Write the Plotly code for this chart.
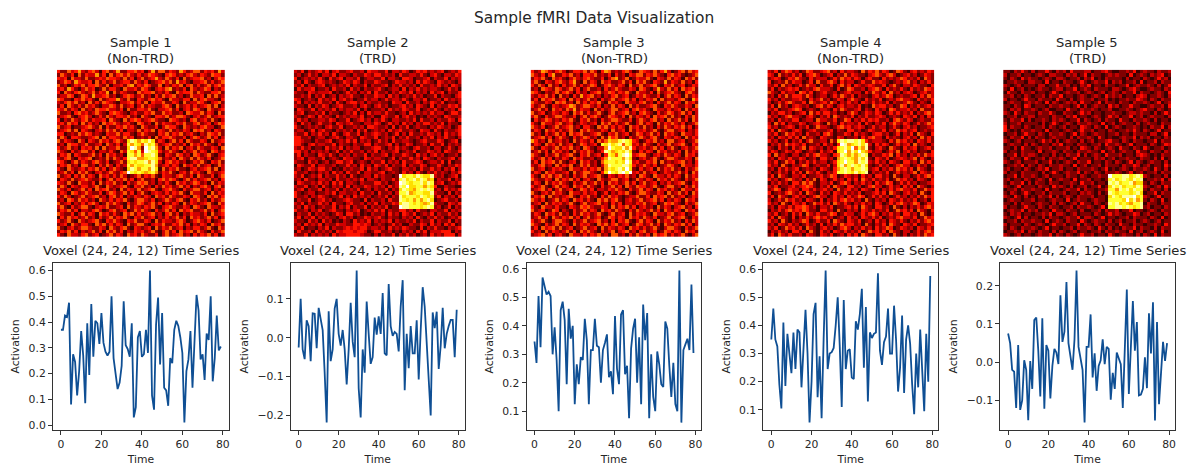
import plotly.graph_objects as go

W, H = 1194, 466
TIME = list(range(80))

SERIES_1 = [.37,.37,.425,.42,.475,.08,.275,.245,.115,.21,.365,.27,.085,.395,.195,.47,.265,.405,.395,.315,
            .435,.32,.285,.27,.285,.5,.26,.2,.14,.165,.23,.48,.31,.295,.265,.395,.03,.07,.34,.365,
            .265,.275,.37,.28,.6,.115,.06,.39,.495,.235,.435,.145,.135,.075,.26,.24,.37,.405,.385,.34,
            .28,.01,.21,.255,.365,.145,.34,.505,.445,.255,.275,.175,.355,.33,.5,.17,.26,.425,.29,.305]
SERIES_2 = [-.025,.1,-.03,-.055,.045,.03,-.06,.063,.062,-.027,.077,.05,.02,-.09,-.218,.068,-.06,-.03,.075,.1,
            .01,-.02,.02,-.03,-.12,-.03,.09,-.01,-.05,.173,-.13,-.205,-.03,-.09,.093,.01,-.067,-.05,.052,.008,
            .055,.01,.115,-.04,-.045,.138,.03,.005,.015,.01,-.035,.08,.148,-.135,.01,-.078,.03,-.04,-.04,.045,
            -.107,.02,.13,.08,-.01,-.09,-.2,.065,.025,.067,-.08,-.02,.077,-.027,.01,.03,.046,.046,-.05,.072]
SERIES_3 = [.345,.27,.505,.325,.57,.54,.51,.52,.505,.3,.395,.28,.1,.455,.485,.42,.195,.46,.355,.4,
            .125,.265,.195,.29,.28,.425,.35,.125,.315,.315,.425,.33,.325,.2,.315,.34,.37,.22,.24,.16,
            .435,.25,.195,.44,.455,.23,.26,.075,.32,.39,.425,.2,.36,.125,.475,.35,.445,.075,.3,.15,
            .1,.31,.265,.195,.185,.415,.39,.26,.15,.27,.125,.1,.595,.06,.315,.335,.355,.315,.545,.305]
SERIES_4 = [.35,.46,.35,.325,.19,.105,.41,.185,.37,.31,.23,.375,.245,.385,.375,.18,.3,.455,.3,.055,
            .2,.44,.48,.145,.29,.07,.35,.595,.245,.3,.305,.32,.4,.5,.33,.11,.49,.245,.31,.315,
            .215,.21,.415,.385,.44,.53,.25,.465,.13,.375,.355,.37,.375,.585,.31,.26,.34,.36,.46,.3,
            .3,.47,.35,.165,.25,.435,.16,.35,.4,.335,.19,.085,.3,.18,.385,.215,.095,.37,.2,.575]
SERIES_5 = [.075,.05,-.02,-.025,-.12,.045,-.125,-.1,.005,-.02,-.152,.003,-.07,.11,.117,.03,-.09,.115,-.122,.045,
            .03,-.095,-.01,.035,.025,-.005,.175,.053,.08,.21,.05,.01,-.02,.06,.24,.04,.01,-.02,-.158,.04,
            .04,.125,-.04,.023,-.075,-.01,.005,.06,-.005,.04,.035,-.098,-.028,-.07,.025,.01,-.005,-.12,.05,.19,
            -.083,.02,.16,.03,.105,-.087,-.085,-.07,.013,-.068,.128,.023,.157,-.153,.105,-.11,-.01,.053,.003,.05]

# Per-cell brightness levels.
HEAT_1 = """
31142352 13420341 25113342 30251441 32153124 41323152
14213041 32251304 13424213 12432103 43121342 13214331
32304221 41123243 32141302 41235214 21304123 34120243
12431532 23041312 41233142 13012342 41523102 23413124
41201324 13342140 22314513 24311402 13240341 31241342
23153102 42301413 31042231 43102324 51213042 12430213
30421342 12413250 41321104 23341213 10423341 42113341
12243014 31522341 20134312 41203142 34120142 23041412
43110324 23104123 35214103 21342310 42213304 13422103
21342412 04131432 10223413 14032241 13204122 43102341
13042131 42310224 31412302 41321134 20412313 12341402
32413204 12143342 21304113 32410223 41302314 31042123
41120342 31242103 43210231 13241142 31120432 24132041
12341023 42013142 13324120 42103324 12443102 31241233
30214213 41322304 21041343 12342110 43212034 12314102
23142304 13120423 42123104 31204132 21324113 41230243
41230112 34214031 13242310 42113024 33104212 13422014
12341403 21023142 41302214 13240321 41213204 34120321
33012142 43121032 24133102 42110324 13241231 02143241
14203321 12340413 32142301 21304133 42113024 31241302
41321042 03214231 34216875 76861320 24130421 13204123
12043312 41123042 13027576 48674123 41213042 31421031
31241203 23140412 24116985 19785204 13240231 42113204
42103124 41302213 10427647 29876312 42103124 13204312
13240321 12413042 31207757 47786103 21431204 31241023
21341032 34012141 42137885 56776412 13042141 42130124
43102413 21342130 12416767 78586203 42312013 24103241
13241204 41203142 03127576 67785123 13204231 41230142
31042123 13241302 42106875 77586041 32411023 12341402
12413042 41023124 21349767 65675132 41023142 31042123
41230314 13204231 31420124 13241032 21342130 42113024
03214123 42113024 13241302 41120342 43102413 12341203
32141042 21304132 41203124 34120213 10423124 31204132
14203213 31241042 12341032 41203142 31241302 13420341
42130124 13042341 20413214 12341023 42103124 41230213
13204312 42113024 31241302 41023213 13241042 21304132
31420124 12341203 41302132 13204231 42113204 31042413
12043142 31204213 13241024 42130124 21341032 41203124
41230213 13420142 42103124 31241302 13204132 12341042
24103124 41023241 12304132 13241023 42113204 31042213
13241302 21342013 41230142 42103124 13042341 12413024
42113024 13204231 31042413 12341203 41302132 21304123
03142312 41203124 13241032 41230213 12413042 31241302
31241042 12341032 42103241 13204132 21342013 42130124
12304213 31042413 13204124 41023241 13241302 13204231
41023124 42113204 21341032 12304132 41230213 31241042
13241302 12413042 41302132 31241024 13042341 42103124
31042213 41230124 13204231 42113024 12341203 13241302
"""

HEAT_2 = """
21302123 13023112 31120322 11302213 20132312 12301213
12013120 22130221 02113213 31212031 12213102 31022132
30121213 10312302 21301221 13022103 32011230 21130212
12031023 21210132 13202113 21101322 12031321 03212102
21302112 30121213 02113021 12302131 21203112 13120321
03122301 12031120 31202112 31012203 02131212 21013120
21103212 22301013 12021303 11202132 13021203 12302113
11213021 30120212 31102113 22031201 21312011 30211023
32012103 12130231 20113122 01312213 10221301 12031212
13021213 11203102 33120211 21103220 31120213 21301102
21103021 32012311 12023102 31201123 12032103 02113231
03211302 12130212 21302011 12031213 21130121 31021203
12301121 30211012 13020312 21311012 03121213 12201331
21013203 12103121 22130120 03211302 31201021 21032112
13120112 21320113 01231202 13102211 21303112 02113203
20312013 11203212 31102213 20131203 12021331 21302110
31012121 02311301 12120332 11203021 30121102 13212013
12201302 31102121 20313012 12031231 12103220 31021123
21130213 12031023 11302123 21201302 03112132 12031213
33112012 20123102 21032113 01213021 31120213 02131102
33211021 12301213 13021201 31203112 21012311 13201230
33102312 21130211 02113302 11230201 32011203 11302121
21312011 03121302 12201123 31021312 10231120 22013102
33120212 12013021 31120213 02112301 21301132 12032113
13021103 21310212 02113021 12302113 21031202 31201120
12302211 30121032 21103212 21013021 13120321 02112302
21103120 12013312 30121021 13021203 11232012 21303011
03211302 21120113 12031203 21302113 02113201 13102132
12013213 31201021 21130312 01231102 21203113 12021302
31120102 12031203 11302211 23012103 12031021 31210213
21301213 02113120 31012203 12110196 77687668 21201230
12031102 21203112 12130221 02113178 67868756 02113021
03211213 12031302 21021113 31201298 76778687 12301213
21130120 31021203 02113212 12031287 96677576 30021100
12302113 02113021 21301202 11302168 76578787 12031213
31012201 12130221 12031120 31120277 85677668 21103021
31120213 21011302 03121201 21302186 77768767 13021203
02113012 31201123 21103021 12031187 67575786 01231120
21302113 12031102 31120213 02113268 87676568 21103213
12031201 21130213 02113021 21301198 87776787 12013021
31120213 01231102 12301213 13021133 12031102 21130212
02113021 21013203 31201021 12031203 21301213 02113120
13021302 12110231 20113212 31021102 12031021 31201213
21103120 31201021 03121302 12130211 21302113 02113021
12031213 02113221 13323201 21013120 02113203 12031301
21301102 13021123 23233122 12031213 21103021 31102123
03112031 21203233 32332013 31120102 12031302 22333021
21130212 12031223 33321102 02113021 31201203 12133302
"""

HEAT_3 = """
31254213 42013324 14203541 21342014 32141352 01341423
42130351 13241203 32412130 31203244 13242103 42310124
13241042 31024213 42113024 51240132 24103214 13204241
24103213 42135104 13204231 12413042 41032151 32141203
31420412 03124131 24301342 13204124 12341032 41230132
12043214 31241302 41120312 42113204 31025214 13042341
43102124 13420312 02341243 13241042 21304123 42103421
21324130 41203152 34120213 41230132 42113024 13204132
13042341 23041312 41203124 12341302 13240412 21341053
42113204 34120413 13241042 31042213 41203124 13204231
31241032 12354124 42130214 13204131 12341032 42113204
12413042 31425132 20413124 41230342 31042213 12304132
41230132 13204241 31241024 12341203 42103124 31241302
24103124 42113024 13420143 21304132 13042341 41203142
03124312 13241032 41203124 42113024 21341204 12413042
31042213 41230132 12304241 31241024 13204132 42130124
42130124 12341203 31042413 13204231 41203142 13241302
13204231 31241042 42113204 12304132 31241024 41230213
41203124 13042341 12341032 41230143 12413042 31042213
12341302 42103124 31204153 41203124 21341032 13204132
53120412 31204132 13042465 57876320 13241204 41230124
13204231 41230143 12307686 78476231 42103124 12341032
41032124 13241204 31022597 66858312 31241302 41023124
12413042 31204132 42013875 67686103 13204231 21304132
42103124 12341032 41230376 47897234 41023142 13204231
31241302 13204231 12013587 77586102 31241024 42113204
13042341 41023042 31204677 67697231 13240412 12341203
21341204 13240142 41202587 77886312 42130124 31042213
41230132 31042213 13241576 78696103 12304132 41203124
13204231 12304124 42103697 68979231 41230132 12413042
31042413 41203124 12341032 13241204 31042213 13204132
42113204 13241302 31042124 41230142 13204231 42103124
13204132 42103124 12413042 31241302 41230213 12341032
31241024 13204231 42103124 13042143 31241024 41203142
12341302 41230143 13022132 42103124 13204231 31042213
41023142 31042213 12301302 13241024 42113204 12413042
13240412 12341032 41203142 31012241 13042341 41230132
42130124 13204231 31042413 41023124 12341302 13204231
12304132 31241024 12341203 13022132 41230143 42103124
31042213 11032143 42113204 13241302 31204132 02341203
41230143 02103124 13204231 42103142 12413042 13204231
13204231 41203142 31241024 12304132 31042213 41230124
12413042 13241302 41230143 13204231 42130124 12341032
31241024 42103124 12341203 03241024 13204132 41203142
42103124 13204132 31042413 41230143 12413042 13241302
13042341 41230124 12304132 13204231 31241024 42103124
31204132 12413042 42103124 02341203 41230143 13204231
12341302 31042213 13241204 41203142 13042341 31241024
"""

HEAT_4 = """
21302431 20143112 34120312 21041324 13201431 02312132
32041213 13023420 12302141 32110234 21342012 31201321
12320132 42103122 20131423 13202311 03121243 12130421
30121413 22013041 13420312 20131142 32101213 41202131
21304120 13142203 11302413 03212321 13024102 21321103
13021232 30121342 22103014 31120234 20312131 03121432
42103122 04313012 31120123 12203142 13041202 32012312
12031413 33142012 20131421 30211023 12430121 12303142
31202112 23103124 12013202 42103121 30121342 21031213
20131342 11304212 31420213 12032131 21302112 43102103
13041202 32120134 13202312 21301042 33120143 02131231
21301123 43012102 21031421 12302103 12043122 31204112
02133120 12304131 33120102 42013213 20131312 13021342
31201342 21023102 13042121 30213112 32012103 21302031
12031213 30122042 21130143 02131323 11203421 32012113
20413021 13201231 04120312 21303102 13024213 20131242
31201232 02130142 21013423 12320131 22013102 31201123
13042102 32012311 12302103 31201321 13021423 12301212
21301423 12031120 34201132 03121023 31201302 13042103
12032131 30412103 21103201 12031342 20312102 31204131
31201302 13024112 20416878 87863122 21031423 12032131
02131423 21301120 31203985 67868203 13201312 30412102
21031203 12403212 02136786 94758102 31042103 12301231
13201321 32012103 12306795 86965312 20131402 31201103
30412102 20131342 21034875 75787021 13240312 02131423
12032131 13201203 31205787 65868103 21301232 12403102
21301423 02131312 20136797 75878213 12032103 31204131
31204102 12430121 13026857 87686101 31201342 20131203
12031312 30121203 21035787 57787123 02131423 13042102
20131203 13042131 02137787 68678021 21301312 12403213
13042102 21301123 12430132 12031203 31204102 20131342
31201342 12031403 20131203 13042131 21301423 12032103
02131203 31424102 21301342 02131203 12430131 31201123
21301123 12343102 13042103 31201342 20131203 13042102
12430132 20331312 31204123 12032103 02131342 21301423
30121342 13042103 12032131 21301123 13042102 31204103
13042102 31201342 20131203 12430131 31201312 02131423
20131423 12032103 02131342 31204102 12032131 21301203
31204103 21301423 13042131 02131203 20131342 12430132
12032131 33431202 21301123 13042103 31204102 02131342
02131342 32431103 31204102 12032131 21301423 13042103
21301203 13042131 12430132 20131342 02131203 31204102
13042103 02131342 31201203 12032131 30121342 21301423
31204102 12430131 13042103 21301203 12032131 02131342
12032131 20131203 02131423 31204102 13042103 21301123
21301423 13042102 31201342 02131203 12430132 12032131
02131203 31204103 12032131 21301423 13042102 20131342
13042131 12032103 21301203 13042103 31204102 02131423
"""

HEAT_5 = """
11021310 20113102 12031112 20112310 01121301 21102112
20112011 01210221 10212013 02110121 21103012 10212301
10210312 11012102 21011202 13010211 11020110 21013120
01121102 21103011 02110131 01211302 12011203 01120211
21012011 10220113 11201021 30110211 01130121 12102013
10301201 01211012 20113012 10211102 21012310 01211021
03110211 20110131 01211201 21012012 10211302 11012103
11201021 01120211 30110121 01210312 12011023 20112102
20110131 10211103 11020121 12011201 01121132 10210211
01211012 12103021 01212031 10130211 02110211 21013012
11021032 01110211 21101302 01211031 20113110 01211203
10212011 21012001 10311021 12101120 01121012 31102101
21031021 10211310 02110131 20110112 11012212 11020131
01120112 20111021 10213011 01210131 20113012 01211102
10211302 01121021 21011302 10120211 03110211 21020110
20112011 11020131 01210211 21103012 01211020 12110211
30211021 01120210 12011032 10210301 21011210 10211302
31010211 21103011 01210131 12011021 01121310 21013011
01120131 10210211 21013021 01211011 20110211 10220130
10211302 02110121 11020211 21031010 01211302 12011021
21012011 10131202 01211020 12011231 10210211 01130211
01211020 21011021 30110211 01120311 21013011 10210132
11020311 01211201 11201032 10210121 03110210 31011201
20110211 10301121 02110211 21103012 01211031 10211021
01130212 21011020 10211302 01210311 12011023 21010211
10211031 01120211 21013011 10212012 01121102 11020301
21012011 12011301 01210211 30110210 21013021 01211020
01121302 10210211 21103012 01120211 10211320 12011031
12011021 01213011 20110211 12101301 01210211 21031020
20110211 11020131 01211302 10210211 21013012 01120211
01130211 21012011 10211021 01121197 77886787 21011020
12011021 01210301 21103011 20110178 67876878 01121302
10211302 02110211 01121031 12011087 86778566 10210211
21013011 10211031 21020112 01130168 78677687 21012031
01120211 21103011 01211302 11011277 58786877 10211020
10210131 01120211 12011021 21020187 67776786 01130211
21031020 10211302 01210211 12011068 76888967 21013011
01211011 20110121 10301211 01211077 77696857 10210301
11020211 01211020 21012031 10210187 86765778 02110211
20110131 10210211 01120211 21013077 88787678 12011021
01211302 12011031 10211020 01120211 20113011 01210211
10212011 01121302 21012011 10210131 21011320 12011021
21013020 11020211 01211302 21013011 01120211 10210301
01120211 21103012 10211031 01211020 12011201 21012011
20111021 01210131 12011302 10210211 03110211 01121031
10210211 21013011 01120211 21031020 10211302 11020211
01121302 10211020 21012011 01120211 21103012 01210301
21012011 01211302 10210131 12011031 01211020 21030211
"""

SERIES = [SERIES_1, SERIES_2, SERIES_3, SERIES_4, SERIES_5]
HEATS = [HEAT_1, HEAT_2, HEAT_3, HEAT_4, HEAT_5]
HEAT_FLOOR = [-0.9, -0.9, -0.9, -0.9, -0.7]
LABELS = ["Non-TRD", "TRD", "Non-TRD", "Non-TRD", "TRD"]
Y_TICKS = [[0.0, 0.1, 0.2, 0.3, 0.4, 0.5, 0.6],
           [-0.2, -0.1, 0.0, 0.1],
           [0.1, 0.2, 0.3, 0.4, 0.5, 0.6],
           [0.1, 0.2, 0.3, 0.4, 0.5, 0.6],
           [-0.1, 0.0, 0.1, 0.2]]
X_TICKS = [0, 20, 40, 60, 80]
Y_RANGES = [(-0.0195, 0.6295), (-0.2375, 0.1925), (0.0335, 0.6215), (0.028, 0.622), (-0.178, 0.26)]


def parse(text):
    rows = [[int(c) for c in line.replace(" ", "")] for line in text.strip().splitlines()]
    assert len(rows) == 48 and all(len(r) == 48 for r in rows), [len(r) for r in rows]
    return rows


HOT = [[0, "#0a0000"], [0.365, "#ff0000"], [0.746, "#ffff00"], [1, "#ffffff"]]
IMG_BOX = [(57, 225), (294, 462), (531, 699), (768, 935), (1004, 1172)]
LINE_BOX = [(53, 229), (291, 465), (527, 702), (764, 939), (1001, 1176)]
IMG_Y = (70, 238)
LINE_Y = (264, 432)
FONT = "DejaVu Sans"
INK = "#262626"
TICK_SIZE = 10.8
TITLE_SIZE = 13.1

fig = go.Figure()
layout = {}


def label(text, x_px, y_px, size):
    return dict(text=text, x=x_px / W, y=1 - y_px / H, xref="paper", yref="paper", showarrow=False,
                xanchor="center", yanchor="middle", font=dict(family=FONT, size=size, color=INK))


annotations = [label("Sample fMRI Data Visualization", 594, 18.5, 15.4)]


def domx(b):
    return [b[0] / W, b[1] / W]


def domy(b):
    return [1 - b[1] / H, 1 - b[0] / H]


for i in range(5):
    a = 2 * i + 1
    b = 2 * i + 2
    fig.add_trace(go.Heatmap(z=parse(HEATS[i]), zmin=HEAT_FLOOR[i], zmax=9, colorscale=HOT, showscale=False,
                             hoverinfo="skip", xaxis=f"x{a}", yaxis=f"y{a}"))
    layout[f"xaxis{a}"] = dict(domain=domx(IMG_BOX[i]), range=[-0.5, 47.5], visible=False, anchor=f"y{a}")
    layout[f"yaxis{a}"] = dict(domain=domy(IMG_Y), range=[47.5, -0.5], visible=False, anchor=f"x{a}")
    fig.add_trace(go.Scatter(x=TIME, y=SERIES[i], mode="lines", line=dict(color="#0f4f94", width=1.8),
                             showlegend=False, xaxis=f"x{b}", yaxis=f"y{b}"))
    axis = dict(showgrid=False, zeroline=False, showline=True, mirror=True, linecolor="#333333", linewidth=1,
                ticks="outside", ticklen=4, tickwidth=1, tickcolor="#333333",
                tickfont=dict(family=FONT, size=TICK_SIZE, color=INK))
    layout[f"xaxis{b}"] = dict(axis, domain=domx(LINE_BOX[i]), range=[-3.95, 82.95], tickvals=X_TICKS, anchor=f"y{b}",
                               title=dict(text="Time", font=dict(family=FONT, size=TICK_SIZE, color=INK), standoff=7))
    layout[f"yaxis{b}"] = dict(axis, domain=domy(LINE_Y), range=list(Y_RANGES[i]), tickvals=Y_TICKS[i],
                               tickformat=".1f", anchor=f"x{b}",
                               title=dict(text="Activation", font=dict(family=FONT, size=TICK_SIZE, color=INK), standoff=6))
    cx = sum(IMG_BOX[i]) / 2
    annotations.append(label(f"Sample {i + 1}", cx, 43, TITLE_SIZE))
    annotations.append(label(f"({LABELS[i]})", cx, 59, TITLE_SIZE))
    annotations.append(label("Voxel (24, 24, 12) Time Series", sum(LINE_BOX[i]) / 2, 252, TITLE_SIZE))

fig.update_layout(width=W, height=H, margin=dict(l=0, r=0, t=0, b=0), paper_bgcolor="white", plot_bgcolor="white",
                  showlegend=False, annotations=annotations, **layout)
fig.write_html("out.html", config={"displayModeBar": False},
               post_script="document.body.style.margin='0';document.body.style.overflow='hidden';")
